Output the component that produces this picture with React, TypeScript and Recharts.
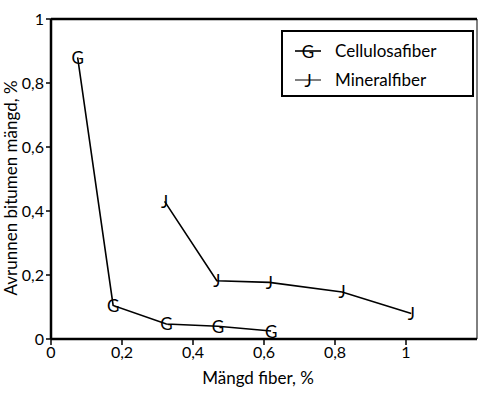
import {
  LineChart,
  Line,
  XAxis,
  YAxis,
  ReferenceLine,
} from 'recharts'

// Cellulosafiber (G markers)
const celluloseX = [0.075, 0.175, 0.325, 0.47, 0.62]
const celluloseY = [0.88, 0.105, 0.047, 0.04, 0.025]

// Mineralfiber (J markers)
const mineralX = [0.32, 0.467, 0.615, 0.82, 1.015]
const mineralY = [0.43, 0.182, 0.177, 0.147, 0.08]

const xTicks = [0, 0.2, 0.4, 0.6, 0.8, 1]
const yTicks = [0, 0.2, 0.4, 0.6, 0.8, 1]

const cellulose = celluloseX.map((x, i) => ({ x, y: celluloseY[i] }))
const mineral = mineralX.map((x, i) => ({ x, y: mineralY[i] }))

const FONT = 'Lato, "Open Sans", sans-serif'

const fmt = (v: number) => String(v).replace('.', ',')

const letterDot = (letter: string) => (props: { cx?: number; cy?: number; index?: number }) => {
  const { cx, cy, index } = props
  if (cx == null || cy == null) return <g key={index} />
  return (
    <text
      key={index}
      x={cx}
      y={cy}
      textAnchor="middle"
      dominantBaseline="central"
      fontFamily={FONT}
      fontSize={17}
      fill="#000"
    >
      {letter}
    </text>
  )
}

const YLabel = () => (
  <text
    transform="translate(17,188) rotate(-90)"
    textAnchor="middle"
    fontFamily={FONT}
    fontSize={17}
    fill="#000"
  >
    Avrunnen bitumen mängd, %
  </text>
)

const XLabel = () => (
  <text x={258} y={384} textAnchor="middle" fontFamily={FONT} fontSize={17} fill="#000">
    Mängd fiber, %
  </text>
)

const LegendBox = () => (
  <div
    style={{
      position: 'absolute',
      left: 281,
      top: 30,
      border: '2px solid #000',
      width: 193,
      height: 67,
      boxSizing: 'border-box',
      fontFamily: FONT,
      fontSize: 17,
      color: '#000',
      background: '#fff',
      padding: '4px 0 0 10px',
    }}
  >
    {[
      { letter: 'G', name: 'Cellulosafiber', w: 1.6 },
      { letter: 'J', name: 'Mineralfiber', w: 1 },
    ].map((s) => (
      <div key={s.name} style={{ display: 'flex', alignItems: 'center', height: 29 }}>
        <svg width={30} height={20} style={{ marginRight: 12 }}>
          <line x1={2} y1={10} x2={28} y2={10} stroke="#000" strokeWidth={s.w} />
          <text x={15} y={10} textAnchor="middle" dominantBaseline="central" fontSize={17} fontFamily={FONT} fill="#000">
            {s.letter}
          </text>
        </svg>
        <span>{s.name}</span>
      </div>
    ))}
  </div>
)

export default function App() {
  return (
    <div style={{ position: 'absolute', left: 0, top: 0, background: '#fff' }}>
      <LineChart width={490} height={395} margin={{ top: 19, right: 13, bottom: 0, left: 0 }}>
        <XAxis
          dataKey="x"
          type="number"
          domain={[0, 1.2]}
          ticks={xTicks}
          tickFormatter={fmt}
          allowDuplicatedCategory={false}
          height={56}
          axisLine={{ stroke: '#000', strokeWidth: 2.5 }}
          tickLine={{ stroke: '#000', strokeWidth: 1.5 }}
          tickSize={6}
          tick={{ fill: '#000', fontSize: 16, fontFamily: FONT }}
          label={<XLabel />}
        />
        <YAxis
          dataKey="y"
          type="number"
          domain={[0, 1]}
          ticks={yTicks}
          tickFormatter={fmt}
          width={51}
          axisLine={{ stroke: '#000', strokeWidth: 2.5 }}
          tickLine={{ stroke: '#000', strokeWidth: 1.5 }}
          tickSize={5}
          tick={{ fill: '#000', fontSize: 16, fontFamily: FONT }}
          label={<YLabel />}
        />
        <ReferenceLine y={1} stroke="#000" strokeWidth={2.5} />
        <ReferenceLine x={1.2} stroke="#000" strokeWidth={1} />
        <Line
          data={cellulose}
          dataKey="y"
          name="Cellulosafiber"
          stroke="#000"
          strokeWidth={1.6}
          dot={letterDot('G')}
          activeDot={false}
          isAnimationActive={false}
        />
        <Line
          data={mineral}
          dataKey="y"
          name="Mineralfiber"
          stroke="#000"
          strokeWidth={1.6}
          dot={letterDot('J')}
          activeDot={false}
          isAnimationActive={false}
        />
      </LineChart>
      <LegendBox />
    </div>
  )
}
